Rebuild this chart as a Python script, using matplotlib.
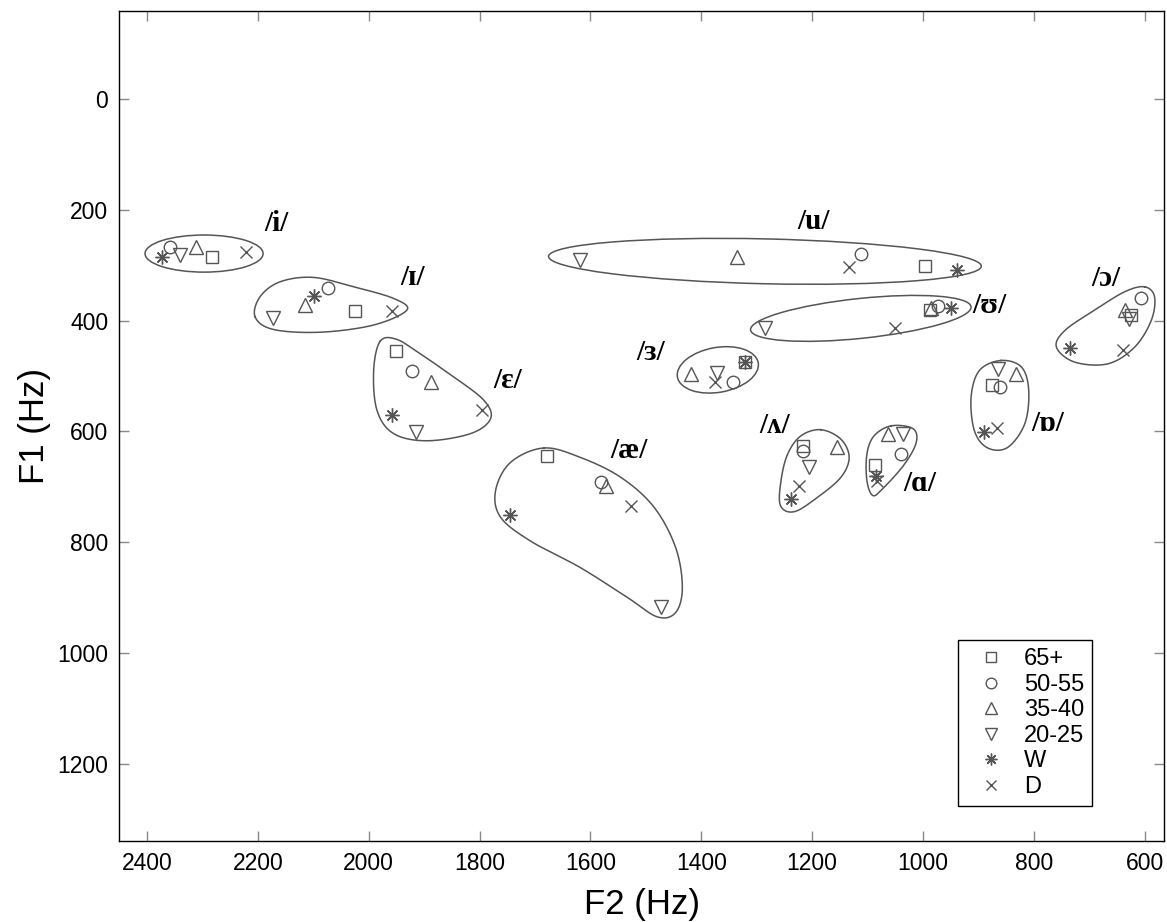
import numpy as np
import matplotlib
matplotlib.use("Agg")
import matplotlib.pyplot as plt
from matplotlib.patches import Ellipse

plt.rcParams['font.family'] = ['Liberation Sans', 'DejaVu Sans']

# vowel order for every group below
vowels = ['i', 'ɪ', 'ɛ', 'æ', 'u', 'ʊ', 'ɜ', 'ʌ', 'ɑ', 'ɒ', 'ɔ']

# F2 / F1 (Hz) per speaker group
f2_65 = [2283, 2024, 1951, 1678, 996, 988, 1321, 1217, 1086, 876, 624]
f1_65 = [285, 383, 455, 644, 302, 380, 475, 626, 660, 517, 390]
f2_50 = [2358, 2074, 1922, 1581, 1112, 973, 1342, 1217, 1040, 861, 606]
f1_50 = [267, 342, 491, 692, 279, 374, 511, 636, 640, 520, 360]
f2_35 = [2311, 2114, 1887, 1571, 1336, 985, 1419, 1155, 1063, 832, 635]
f1_35 = [267, 372, 511, 698, 286, 378, 496, 629, 605, 496, 380]
f2_20 = [2340, 2173, 1914, 1473, 1618, 1284, 1371, 1205, 1036, 865, 628]
f1_20 = [282, 396, 602, 918, 290, 414, 495, 665, 605, 487, 397]
f2_w = [2373, 2098, 1957, 1745, 938, 950, 1321, 1238, 1084, 889, 735]
f1_w = [285, 356, 570, 751, 309, 378, 475, 722, 680, 602, 449]
f2_d = [2221, 1958, 1796, 1526, 1133, 1051, 1375, 1223, 1082, 866, 639]
f1_d = [276, 383, 562, 734, 303, 414, 511, 698, 689, 594, 453]

group_labels = ['65+', '50-55', '35-40', '20-25', 'W', 'D']

# vowel label positions (F2, F1)
label_f2 = [2166, 1920, 1750, 1531, 1198, 880, 1491, 1268, 1006, 774, 669]
label_f1 = [224, 323, 508, 635, 222, 372, 457, 590, 695, 585, 324]

# elliptical enclosures: centre F2, centre F1, width, height, angle
ell_vowels = ['i', 'u', 'ʊ', 'ɜ']
ell_f2 = [2297, 1285, 1112, 1370]
ell_f1 = [279, 293, 396, 489]
ell_w = [213, 781, 400, 148]
ell_h = [67, 81, 72, 81]
ell_ang = [0, -1.3, 6, 10]

# free-form enclosures (outline points F2, F1)
blob_ih = ([2205, 2172, 2087, 1991, 1931, 1955, 2027, 2100, 2160, 2196],
           [393, 416, 421, 408, 381, 360, 339, 322, 330, 357])
blob_eh = ([1979, 1991, 1985, 1955, 1895, 1816, 1780, 1792, 1846, 1907, 1949],
           [437, 490, 562, 604, 617, 604, 577, 544, 502, 460, 434])
blob_ae = ([1684, 1618, 1545, 1485, 1446, 1434, 1446, 1479, 1533, 1618, 1708, 1762, 1771, 1744],
           [630, 647, 683, 737, 810, 882, 927, 935, 900, 846, 798, 755, 707, 656])
blob_uh = ([1184, 1148, 1133, 1148, 1190, 1232, 1257, 1256, 1244, 1220],
           [597, 614, 647, 683, 719, 745, 734, 689, 641, 608])
blob_aa = ([1057, 1018, 1012, 1033, 1070, 1090, 1101, 1101, 1088],
           [590, 595, 620, 659, 701, 716, 689, 641, 608])
blob_oh = ([859, 822, 809, 816, 847, 883, 907, 913, 898],
           [472, 484, 526, 586, 629, 630, 599, 538, 490])
blob_aw = ([600, 582, 588, 618, 666, 726, 759, 744, 690, 636],
           [339, 357, 400, 448, 478, 475, 448, 418, 381, 348])


def closed_curve(xs, ys, n=30):
    p = np.column_stack([xs, ys]).astype(float)
    m = len(p)
    t = np.linspace(0, 1, n, endpoint=False)[:, None]
    segs = []
    for k in range(m):
        p0, p1, p2, p3 = p[k - 1], p[k], p[(k + 1) % m], p[(k + 2) % m]
        segs.append(0.5 * (2 * p1 + (-p0 + p2) * t
                           + (2 * p0 - 5 * p1 + 4 * p2 - p3) * t ** 2
                           + (-p0 + 3 * p1 - 3 * p2 + p3) * t ** 3))
    segs.append(segs[0][:1])
    return np.vstack(segs)


gray = '#555555'
fig = plt.figure(figsize=(11.67, 9.22), dpi=100)
ax = fig.add_axes([0.1022, 0.0882, 0.8952, 0.8999])

for k in range(len(ell_vowels)):
    ax.add_patch(Ellipse((ell_f2[k], ell_f1[k]), ell_w[k], ell_h[k], angle=ell_ang[k],
                         fill=False, edgecolor=gray, lw=1.1))

for bx, by in [blob_ih, blob_eh, blob_ae, blob_uh, blob_aa, blob_oh, blob_aw]:
    c = closed_curve(bx, by)
    ax.plot(c[:, 0], c[:, 1], color=gray, lw=1.1)

groups = [(f2_65, f1_65, 's', 8), (f2_50, f1_50, 'o', 9), (f2_35, f1_35, '^', 10),
          (f2_20, f1_20, 'v', 10), (f2_w, f1_w, (8, 2, 0), 10), (f2_d, f1_d, 'x', 8)]
for (gx, gy, mk, ms), lab in zip(groups, group_labels):
    ax.plot(gx, gy, linestyle='none', marker=mk, markersize=ms, markerfacecolor='none',
            markeredgecolor=gray, markeredgewidth=1.0, label=lab)

for v, lx, ly in zip(vowels, label_f2, label_f1):
    ax.text(lx, ly, '/' + v + '/', ha='center', va='center', fontsize=21,
            fontweight='bold', family=['Liberation Serif', 'DejaVu Serif'])

ax.set_xlim(2450, 565)
ax.set_ylim(1339, -159)
ax.set_xticks(np.arange(2400, 500, -200))
ax.set_yticks(np.arange(0, 1300, 200))
ax.tick_params(direction='in', length=7, width=1, color='#888888', top=True, right=True,
               labelsize=16.5, pad=8)
for s in ax.spines.values():
    s.set_linewidth(1.0)

ax.set_xlabel('F2 (Hz)', fontsize=25, va='center')
ax.xaxis.set_label_coords(0.5, -0.0775)
ax.set_ylabel('F1 (Hz)', fontsize=25, va='center')
ax.yaxis.set_label_coords(-0.081, 0.5)

leg = ax.legend(loc='upper left', bbox_to_anchor=(0.8025, 0.2419), borderaxespad=0,
                fontsize=17, fancybox=False, edgecolor='black', framealpha=1,
                labelspacing=0.15, handletextpad=0.35, markerscale=0.85,
                borderpad=0.35, handlelength=2.1)
leg.get_frame().set_linewidth(1.0)

fig.savefig('out.png', dpi=100)
